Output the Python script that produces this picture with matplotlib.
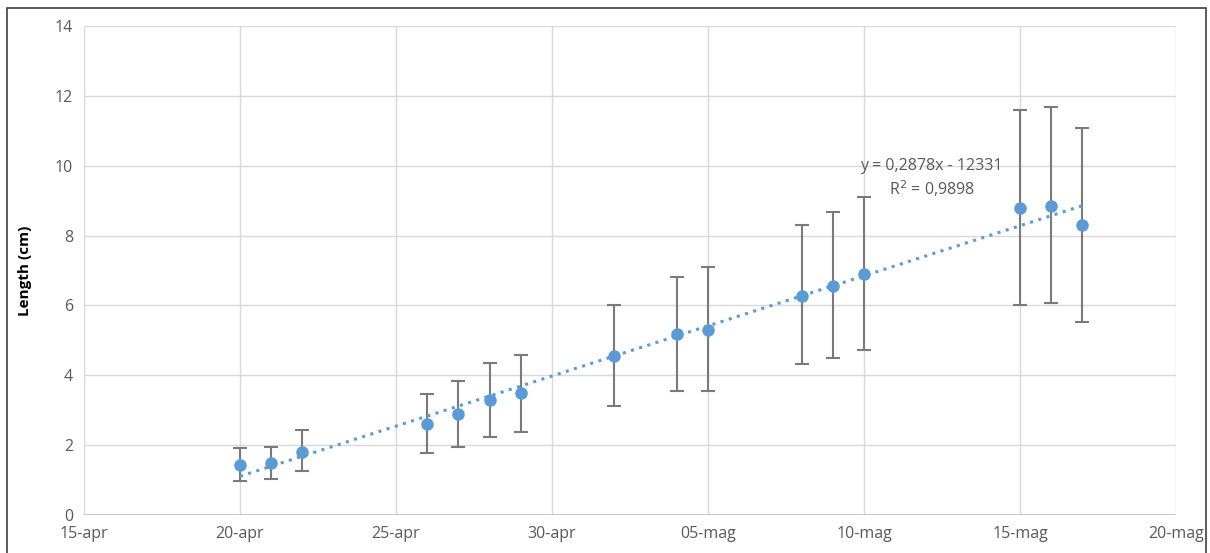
import numpy as np
import pandas as pd
import matplotlib
matplotlib.use("Agg")
import matplotlib.pyplot as plt
import matplotlib.dates as mdates
from matplotlib.patches import Rectangle

dates = ["2020-04-20", "2020-04-21", "2020-04-22", "2020-04-26", "2020-04-27",
         "2020-04-28", "2020-04-29", "2020-05-02", "2020-05-04", "2020-05-05",
         "2020-05-08", "2020-05-09", "2020-05-10", "2020-05-15", "2020-05-16",
         "2020-05-17"]
length = [1.44, 1.49, 1.80, 2.61, 2.88, 3.29, 3.48, 4.56, 5.17, 5.31,
          6.28, 6.57, 6.90, 8.80, 8.84, 8.30]
err_hi = [1.92, 1.96, 2.42, 3.45, 3.83, 4.35, 4.58, 6.02, 6.81, 7.10,
          8.30, 8.68, 9.10, 11.60, 11.68, 11.08]
err_lo = [0.97, 1.03, 1.26, 1.77, 1.95, 2.24, 2.37, 3.12, 3.55, 3.55,
          4.31, 4.50, 4.73, 6.02, 6.07, 5.52]
tick_dates = ["2020-04-15", "2020-04-20", "2020-04-25", "2020-04-30",
              "2020-05-05", "2020-05-10", "2020-05-15", "2020-05-20"]
tick_labels = ["15-apr", "20-apr", "25-apr", "30-apr", "05-mag", "10-mag",
               "15-mag", "20-mag"]
eq_text = "y = 0,2878x - 12331"
r2_text = "R$^2$ = 0,9898"

plt.rcParams['font.family'] = ['Open Sans', 'DejaVu Sans']

x = mdates.date2num(pd.to_datetime(dates))
y = np.array(length)
lo = y - np.array(err_lo)
hi = np.array(err_hi) - y
xt = mdates.date2num(pd.to_datetime(tick_dates))

fig = plt.figure(figsize=(12.10, 5.53), dpi=100)
fig.patches.append(Rectangle((0.006, -0.01), 0.991, 0.996, transform=fig.transFigure,
                             fill=False, edgecolor='#404040', linewidth=1.2))
ax = fig.add_axes([84 / 1210, 1 - 515 / 553, (1176 - 84) / 1210, (515 - 26) / 553])

grid_c = '#d9d9d9'
ax.set_xlim(xt[0], xt[-1])
ax.set_ylim(0, 14)
ax.set_xticks(xt)
ax.set_xticklabels(tick_labels)
ax.set_yticks(range(0, 15, 2))
ax.grid(True, color=grid_c, linewidth=1)
ax.set_axisbelow(True)
for s in ax.spines.values():
    s.set_visible(False)
ax.axhline(0, color='#bfbfbf', linewidth=1.2, zorder=1)
ax.tick_params(length=0, labelsize=11.5, colors='#595959', pad=8)
ax.set_ylabel("Length (cm)", fontsize=11, fontweight='bold', color='black', labelpad=16)

ax.errorbar(x, y, yerr=[lo, hi], fmt='none', ecolor='#7a7a7a', elinewidth=1.5,
            capsize=5, capthick=1.5, zorder=2)
ax.plot(x, y, 'o', color='#5b9bd5', markersize=8, zorder=3)

# linear trendline
k, b = np.polyfit(x, y, 1)
xf = np.array([x[0], x[-1]])
ax.plot(xf, k * xf + b, linestyle=(0, (1, 1.8)), color='#5b9bd5', linewidth=2.2, zorder=2.5)

tx = mdates.date2num(pd.to_datetime("2020-05-12 04:00"))
ax.text(tx, 10.0, eq_text, fontsize=11.5, color='#595959', ha='center', va='center')
ax.text(tx, 9.35, r2_text, fontsize=11.5, color='#595959', ha='center', va='center')

fig.savefig("out.png", dpi=100)
